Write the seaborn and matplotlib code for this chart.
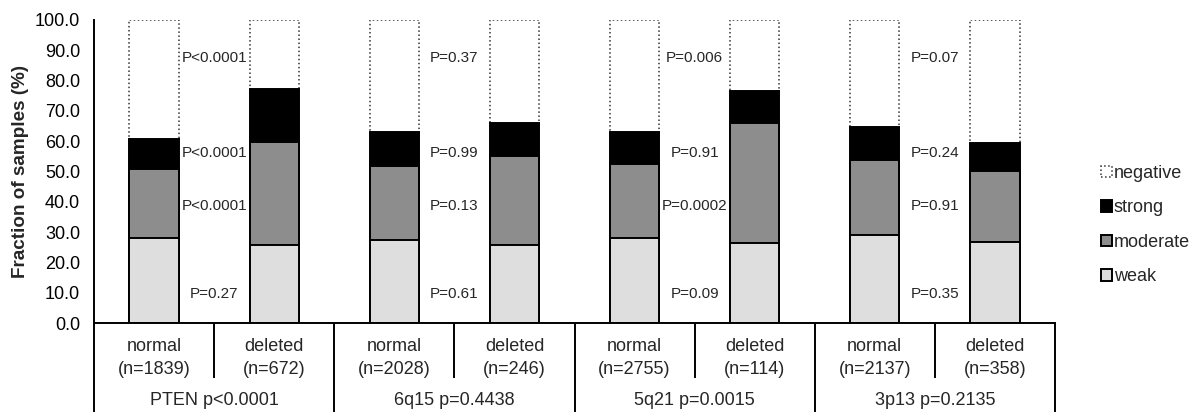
import matplotlib
matplotlib.use("Agg")
import matplotlib.pyplot as plt
from matplotlib.patches import Patch
import numpy as np
import pandas as pd
import seaborn as sns

# Loci, genotype groups and their sample counts
loci = ["PTEN", "6q15", "5q21", "3p13"]
locus_p = ["p<0.0001", "p=0.4438", "p=0.0015", "p=0.2135"]
statuses = ["normal", "deleted"]
counts = [1839, 672, 2028, 246, 2755, 114, 2137, 358]

# Staining intensity fractions (%) per bar, in order normal/deleted per locus
weak = [28.0, 25.6, 27.4, 25.6, 27.9, 26.3, 29.2, 26.8]
moderate = [22.7, 34.1, 24.5, 29.4, 24.7, 39.7, 24.5, 23.4]
strong = [10.0, 17.5, 11.1, 11.0, 10.4, 10.7, 11.1, 9.3]

# Per-intensity p-values for each locus (negative, strong, moderate, weak)
p_negative = ["P<0.0001", "P=0.37", "P=0.006", "P=0.07"]
p_strong = ["P<0.0001", "P=0.99", "P=0.91", "P=0.24"]
p_moderate = ["P<0.0001", "P=0.13", "P=0.0002", "P=0.91"]
p_weak = ["P=0.27", "P=0.61", "P=0.09", "P=0.35"]

sns.set_style("white")
plt.rcParams["font.family"] = ["Liberation Sans", "DejaVu Sans"]

keys = [f"{l} {s}" for l in loci for s in statuses]
df = pd.DataFrame({
    "key": keys,
    "weak": weak,
    "moderate": moderate,
    "strong": strong,
})
df["weak_top"] = df["weak"]
df["moderate_top"] = df["weak_top"] + df["moderate"]
df["strong_top"] = df["moderate_top"] + df["strong"]
df["negative_top"] = 100.0

fig = plt.figure(figsize=(11.96, 4.12), dpi=100)
ax = fig.add_axes([94 / 1196, (412 - 323) / 412, 961 / 1196, 303 / 412])

c_weak = "#dedede"
c_mod = "#8d8d8d"
c_strong = "#000000"

bar_kw = dict(width=0.41, order=keys, ax=ax, errorbar=None, saturation=1)
sns.barplot(data=df, x="key", y="negative_top", color="white",
            edgecolor="#333333", linewidth=1.1, linestyle=":", **bar_kw)
sns.barplot(data=df, x="key", y="strong_top", color=c_strong,
            edgecolor="black", linewidth=1.4, **bar_kw)
sns.barplot(data=df, x="key", y="moderate_top", color=c_mod,
            edgecolor="black", linewidth=1.4, **bar_kw)
sns.barplot(data=df, x="key", y="weak_top", color=c_weak,
            edgecolor="black", linewidth=1.4, **bar_kw)

ax.set_xlim(-0.5, 7.5)
ax.set_ylim(0, 100)
ax.set_yticks(np.arange(0, 101, 10))
ax.set_yticklabels([f"{v:.1f}" for v in np.arange(0, 101, 10)])
ax.tick_params(axis="y", direction="out", length=6, width=1.2, pad=4,
               labelsize=13, colors="black")
ax.tick_params(axis="x", length=0, labelbottom=False)
ax.set_xlabel("")
ax.set_ylabel("Fraction of samples (%)", fontsize=13.6, fontweight="bold")
ax.yaxis.set_label_coords(-0.068, 0.5)

for side in ["top", "right"]:
    ax.spines[side].set_visible(False)
for side in ["left", "bottom"]:
    ax.spines[side].set_color("black")
    ax.spines[side].set_linewidth(1.4)

# p-value annotations between each pair of bars
label_rows = [(p_negative, 87.6), (p_strong, 56.0), (p_moderate, 38.5), (p_weak, 9.5)]
for labels, yv in label_rows:
    for g, txt in enumerate(labels):
        ax.text(2 * g + 0.5, yv, txt, ha="center", va="center", fontsize=11)

# Category table beneath the axis
tr = ax.get_xaxis_transform()
y_row = -0.1815
y_bot = -0.2937
for xb in [-0.5, 1.5, 3.5, 5.5, 7.5]:
    ax.plot([xb, xb], [0, y_bot], transform=tr, color="black", lw=1.4,
            clip_on=False, solid_capstyle="butt")
for xb in [0.5, 2.5, 4.5, 6.5]:
    ax.plot([xb, xb], [0, y_row], transform=tr, color="black", lw=1.4,
            clip_on=False, solid_capstyle="butt")

for i, n in enumerate(counts):
    ax.text(i, -0.079, statuses[i % 2], transform=tr, ha="center",
            va="center", fontsize=13)
    ax.text(i, -0.152, f"(n={n})", transform=tr, ha="center",
            va="center", fontsize=13)
for g, (locus, pv) in enumerate(zip(loci, locus_p)):
    ax.text(2 * g + 0.5, -0.257, f"{locus} {pv}", transform=tr,
            ha="center", va="center", fontsize=13)

handles = [
    Patch(facecolor="white", edgecolor="#333333", linestyle=":", linewidth=1.1, label="negative"),
    Patch(facecolor=c_strong, edgecolor="black", linewidth=1.4, label="strong"),
    Patch(facecolor=c_mod, edgecolor="black", linewidth=1.4, label="moderate"),
    Patch(facecolor=c_weak, edgecolor="black", linewidth=1.4, label="weak"),
]
fig.legend(handles=handles, loc="center left",
           bbox_to_anchor=(1101 / 1196, (412 - 225) / 412),
           frameon=False, fontsize=13, handlelength=0.6, handleheight=0.6,
           handletextpad=0.12, labelspacing=0.97, borderpad=0, borderaxespad=0)

fig.savefig("out.png", dpi=100)
